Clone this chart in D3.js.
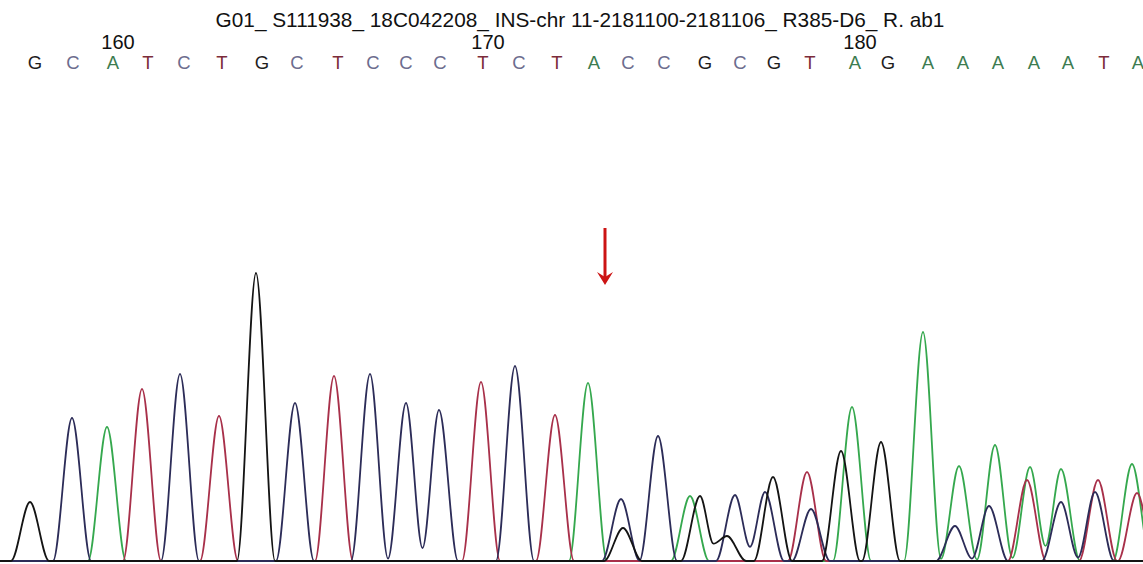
<!DOCTYPE html>
<html>
<head>
<meta charset="utf-8">
<script src="https://cdn.jsdelivr.net/npm/d3@7"></script>
<style>
    body { margin: 0; background: #fff; }
    svg { display: block; font-family: "Liberation Sans", Arial, sans-serif; }
</style>
</head>
<body>
<svg width="1143" height="564"></svg>
<script>
// Sample name shown at the top
var title = 'G01_ S111938_ 18C042208_ INS-chr 11-2181100-2181106_ R385-D6_ R. ab1';

// Base calls and their scan positions
var baseCalls = 'GCATCTGCTCCCTCTACCGCGTAGAAAAATA'.split('');
var basePositions = [35, 73, 113, 148, 184, 222, 262, 297, 338, 373, 406, 440, 483, 519, 557,
    594, 628, 664, 705, 740, 774, 810, 855, 888, 928, 963, 998, 1034, 1068, 1104, 1138];
var firstBaseNumber = 158;
var tickNumbers = [160, 170, 180];

// Peaks per channel: scan position and signal height
var peaksG = {pos: [30, 256, 623, 700, 727, 773, 841, 881],
              height: [59, 288, 33, 65, 25, 84, 110, 119]};
var peaksC = {pos: [72, 180, 295, 370, 406, 439, 515, 621, 658, 735, 765, 811, 955, 989, 1061, 1095],
              height: [143, 187, 158, 187, 158, 151, 195, 62, 125, 66, 69, 52, 35, 55, 59, 69]};
var peaksA = {pos: [107, 588, 690, 852, 923, 959, 995, 1030, 1061, 1132],
              height: [134, 178, 65, 154, 229, 95, 116, 94, 92, 97]};
var peaksT = {pos: [142, 219, 334, 481, 555, 807, 1027, 1098, 1137],
              height: [172, 145, 185, 179, 146, 89, 81, 81, 68]};

// Position of the red marker arrow
var arrowPos = 605;

var traceColors = {A: '#35a84e', T: '#a8304a', C: '#2c2c58', G: '#141414'};
var letterColors = {A: '#3c7c50', T: '#7c2c3a', C: '#6c6c8e', G: '#1e1e1e'};

var svg = d3.select('svg');
var svgWidth = +svg.attr('width');

var xScale = d3.scaleLinear().domain([0, 1143]).range([0, svgWidth]);
var yScale = d3.scaleLinear().domain([0, 300]).range([561, 261]);

var halfWidth = 19;

// Build trace control points: base, top, base (valleys where peaks overlap)
function tracePoints(peaks) {
    var pts = [[0, 0]];
    var n = peaks.pos.length;
    var bump = function(d) { return d >= halfWidth ? 0 : (1 + Math.cos(Math.PI * d / halfWidth)) / 2; };
    pts.push([peaks.pos[0] - halfWidth, 0]);
    for (var i = 0; i < n; i++) {
        pts.push([peaks.pos[i], peaks.height[i]]);
        if (i < n - 1) {
            var gap = peaks.pos[i + 1] - peaks.pos[i];
            if (gap >= 2 * halfWidth) {
                pts.push([peaks.pos[i] + halfWidth, 0]);
                pts.push([peaks.pos[i + 1] - halfWidth, 0]);
            } else {
                var v = bump(gap / 2) * (peaks.height[i] + peaks.height[i + 1]);
                pts.push([peaks.pos[i] + gap / 2, v]);
            }
        }
    }
    pts.push([peaks.pos[n - 1] + halfWidth, 0]);
    pts.push([1143, 0]);
    return pts;
}

var line = d3.line()
    .x(function(d) { return xScale(d[0]); })
    .y(function(d) { return yScale(d[1]); })
    .curve(d3.curveMonotoneX);

var channels = [
    {key: 'A', peaks: peaksA},
    {key: 'T', peaks: peaksT},
    {key: 'C', peaks: peaksC},
    {key: 'G', peaks: peaksG}
];

svg.append('g')
    .attr('class', 'traces')
    .selectAll('path')
    .data(channels)
    .enter()
    .append('path')
    .attr('d', function(d) { return line(tracePoints(d.peaks)); })
    .attr('fill', 'none')
    .attr('stroke', function(d) { return traceColors[d.key]; })
    .attr('stroke-width', 1.8)
    .attr('stroke-linejoin', 'round');

// Title
svg.append('text')
    .attr('x', 580)
    .attr('y', 27)
    .attr('text-anchor', 'middle')
    .attr('font-size', 20.8)
    .attr('fill', '#111')
    .text(title);

// Base letters
svg.append('g')
    .selectAll('text')
    .data(baseCalls)
    .enter()
    .append('text')
    .attr('x', function(d, i) { return xScale(basePositions[i]); })
    .attr('y', 69)
    .attr('text-anchor', 'middle')
    .attr('font-size', 18.5)
    .attr('fill', function(d) { return letterColors[d]; })
    .text(function(d) { return d; });

// Base numbers
svg.append('g')
    .selectAll('text')
    .data(tickNumbers)
    .enter()
    .append('text')
    .attr('x', function(d) { return xScale(basePositions[d - firstBaseNumber]) + 5; })
    .attr('y', 49)
    .attr('text-anchor', 'middle')
    .attr('font-size', 20)
    .attr('fill', '#111')
    .text(function(d) { return d; });

// Red marker arrow
var ax = xScale(arrowPos);
var arrow = svg.append('g').attr('class', 'arrow');
arrow.append('line')
    .attr('x1', ax).attr('x2', ax)
    .attr('y1', 228).attr('y2', 278)
    .attr('stroke', '#cc1414')
    .attr('stroke-width', 3);
arrow.append('path')
    .attr('d', 'M' + (ax - 8) + ',272 L' + ax + ',285 L' + (ax + 8) + ',272 L' + ax + ',277 Z')
    .attr('fill', '#cc1414');
</script>
</body>
</html>
